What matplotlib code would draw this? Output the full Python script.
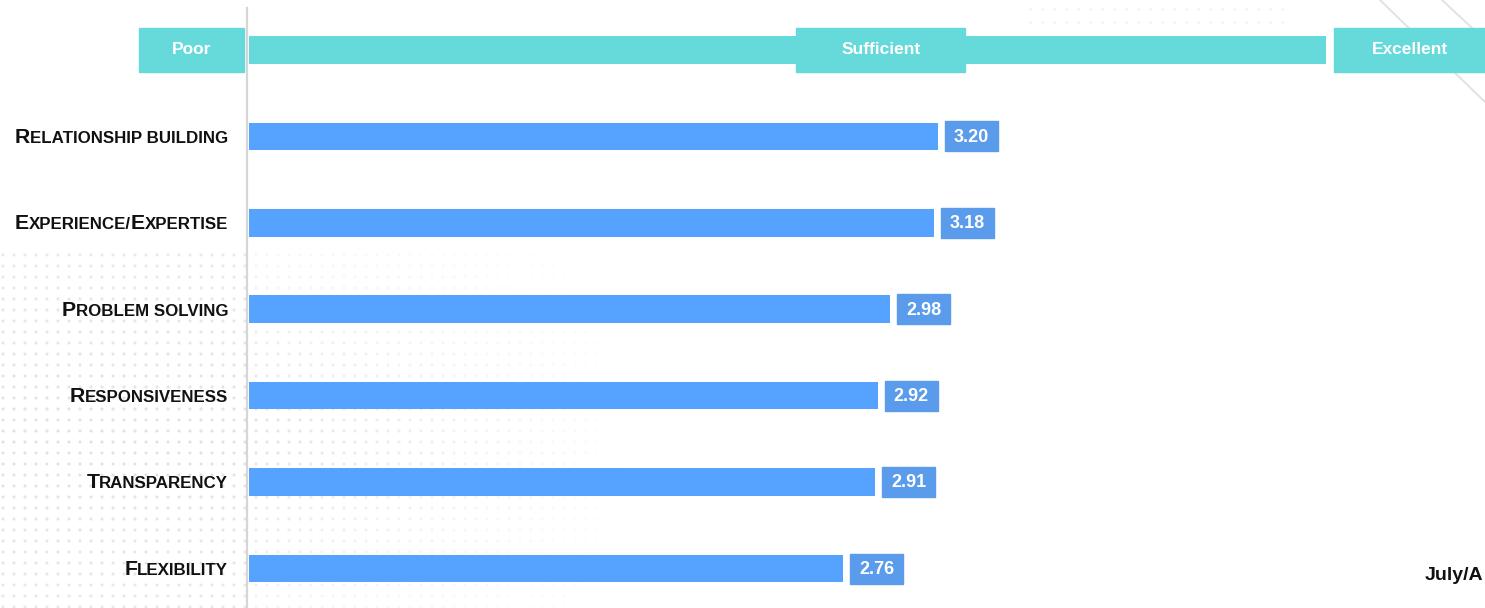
import matplotlib.pyplot as plt
import numpy as np
from matplotlib.patches import Rectangle
from matplotlib.offsetbox import TextArea, HPacker, AnnotationBbox

attributes = ["Relationship building", "Experience/Expertise", "Problem solving",
              "Responsiveness", "Transparency", "Flexibility"]
scores = [3.20, 3.18, 2.98, 2.92, 2.91, 2.76]
scale_labels = ["Poor", "Sufficient", "Excellent"]
scale_pos = [-0.264, 2.935, 5.39]      # box centres on the rating axis
scale_width = [0.49, 0.785, 0.70]
scale_max = 5
footer = "July/A"

TEAL = "#66d9da"
BAR = "#55a2ff"
VALBOX = "#5b9bec"
FONT = "Liberation Sans"

fig = plt.figure(figsize=(14.85, 6.08), dpi=100)

# background layer in pixel coords: faint dots + corner strokes
bg = fig.add_axes([0, 0, 1, 1], zorder=0)
bg.set_xlim(0, 1485)
bg.set_ylim(608, 0)
bg.axis("off")
gx, gy = np.meshgrid(np.arange(3, 640, 11), np.arange(255, 608, 11))
fade = np.clip(1 - (gx - 230) / 420, 0, 1) * np.clip(1 - np.abs(gy - 440) / 260, 0, 1)
fade = np.where(gx < 250, np.clip(0.6 + 0.4 * fade, 0, 1), fade)
keep = fade > 0.05
bg.scatter(gx[keep], gy[keep], s=5, c="#d8d8d8", alpha=fade[keep] * 0.75, linewidths=0)
tx, ty = np.meshgrid(np.arange(1030, 1290, 12), [9, 22])
bg.scatter(tx, ty, s=3, c="#f0f0f0", linewidths=0)
bg.plot([1380, 1485], [0, 102], color="#e2e2e2", lw=1.4)
bg.plot([1442, 1485], [0, 40], color="#e2e2e2", lw=1.4)
bg.plot([247, 247], [8, 608], color="#d6d6d6", lw=1.6)

ax = fig.add_axes([248.5 / 1485, 0, 1 - 248.5 / 1485, 1], zorder=1)
ax.patch.set_alpha(0)
ax.set_xlim(0, 5.74)
ax.set_ylim(5.456, -1.577)
ax.axis("off")

y = np.arange(len(attributes))
bar_h = 0.318
ax.barh(y, scores, height=bar_h, color=BAR, zorder=3)

# rating band
ax.barh(-1, scale_max, height=bar_h, color=TEAL, zorder=3)
for lab, cx, w in zip(scale_labels, scale_pos, scale_width):
    ax.add_patch(Rectangle((cx - w / 2, -1 - 0.255), w, 0.51, color=TEAL,
                           zorder=4, clip_on=False))
    ax.text(cx, -1, lab, ha="center", va="center", color="white", fontsize=12.5,
            fontweight="bold", family=FONT, zorder=5, clip_on=False)

# value boxes
gap = 0.0325
bw = 0.246
for yi, v in zip(y, scores):
    ax.add_patch(Rectangle((v + gap, yi - 0.174), bw, 0.348, color=VALBOX, zorder=3))
    ax.text(v + gap + bw / 2, yi + 0.01, f"{v:.2f}", ha="center", va="center",
            color="white", fontsize=13, fontweight="bold", family=FONT, zorder=4)


def small_caps(label, big=15.3, small=12.2):
    parts = []
    run, run_big = "", None
    for ch in label:
        is_big = ch.isupper()
        if run and is_big != run_big:
            parts.append((run, run_big))
            run = ""
        run += ch.upper()
        run_big = is_big
    parts.append((run, run_big))
    boxes = [TextArea(s, textprops=dict(fontsize=big if b else small, fontweight="bold",
                                        family=FONT, color="#111111"))
             for s, b in parts]
    return HPacker(children=boxes, sep=0, pad=0, align="baseline")


for yi, lab in zip(y, attributes):
    ab = AnnotationBbox(small_caps(lab), (-0.094, yi + 0.01), xycoords="data",
                        box_alignment=(1, 0.5), frameon=False, pad=0,
                        annotation_clip=False)
    ax.add_artist(ab)

fig.text(1425 / 1485, 1 - 576 / 608, footer, ha="left", va="center",
         fontsize=14, fontweight="bold", family=FONT, color="#111111")

fig.savefig("out.png", dpi=100, facecolor="white")
